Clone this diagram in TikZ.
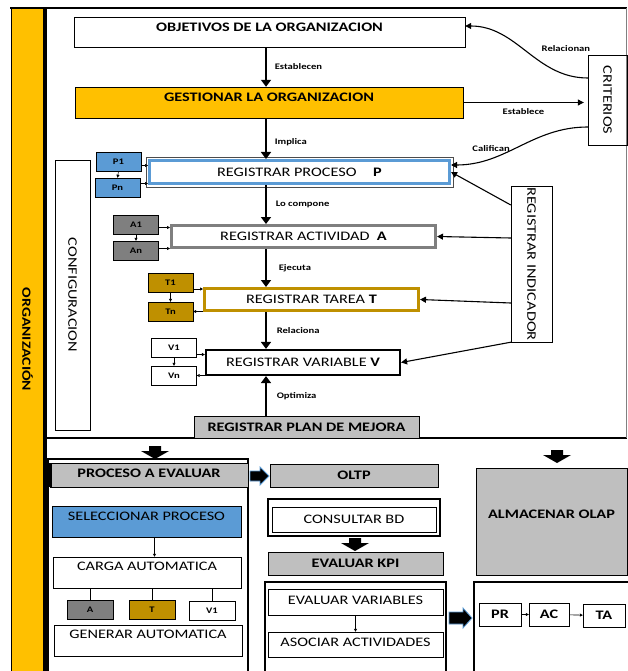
\documentclass[tikz,border=0pt]{standalone}
\usepackage{fontspec}
\setmainfont{Carlito}[FakeStretch=1.25]
\usetikzlibrary{arrows.meta}

\definecolor{orgyellow}{HTML}{FFC000}
\definecolor{procblue}{HTML}{5B9BD5}
\definecolor{actgray}{HTML}{7F7F7F}
\definecolor{targold}{HTML}{BF9000}
\definecolor{boxgray}{HTML}{BFBFBF}

\newcommand{\fatdown}[2]{\fill (#1,#2) ++(-6,0) -- ++(12,0) -- ++(0,5) -- ++(8,0) -- ++(-14,8) -- ++(-14,-8) -- ++(8,0) -- cycle;}
\newcommand{\fatright}[4]{\filldraw[draw=procblue, line width=0.8pt] (#1,#2) ++(0,-#3/2) -- ++(#4,0) -- ++(0,-4) -- ++(9,#3/2+4) -- ++(-9,#3/2+4) -- ++(0,-4) -- ++(-#4,0) -- cycle;}

\tikzset{
  box/.style={draw, inner sep=0pt, align=center, font=\bfseries\fontsize{13}{15}\selectfont},
  plainbox/.style={draw, inner sep=0pt, align=center, font=\fontsize{13}{15}\selectfont},
  mini/.style={draw, inner sep=0pt, minimum width=45, minimum height=19, font=\bfseries\fontsize{8.5}{10}\selectfont},
  lbl/.style={inner sep=0pt, font=\bfseries\fontsize{8.5}{10}\selectfont},
  flow/.style={line width=1.6pt, -{Triangle[length=7pt,width=10pt]}},
  side/.style={line width=1.1pt, -{Triangle[length=6pt,width=6pt]}},
  tinyarr/.style={line width=0.6pt, -{Triangle[length=3pt,width=3pt]}},
}

\begin{document}
\begin{tikzpicture}[x=1pt,y=-1pt]
\useasboundingbox (0,0) rectangle (627,671);

\node[draw, fill=orgyellow, line width=1pt, minimum width=32, minimum height=663, inner sep=0pt,
  font=\bfseries\fontsize{12.5}{15}\selectfont] (org) at (27.5,339.5) {\rotatebox{-90}{ORGANIZACIÓN}};
\draw[line width=1.6pt] (10,8) -- (627,8);
\draw[line width=3pt] (45,8) -- (45,671);
\draw[line width=1.6pt] (45,438) -- (627,438);
\draw[black!50] (626,8) -- (626,438);

\coordinate (spine) at (266,0);

\node[box, minimum width=391, minimum height=30, text depth=10pt] (obj) at (269.5,32) {OBJETIVOS DE LA ORGANIZACION};
\node[box, fill=orgyellow, minimum width=388, minimum height=31, text depth=11pt] (gest) at (269,102.5) {GESTIONAR LA ORGANIZACION};
\node[plainbox, minimum width=39, minimum height=90] (crit) at (607.5,100) {\rotatebox{-90}{CRITERIOS}};

\node[plainbox, draw=procblue, line width=3pt, minimum width=300, minimum height=23] (proc) at (299.5,172) {REGISTRAR PROCESO \quad\textbf{P}};
\draw[black!70, line width=0.6pt] (proc.south west) ++(-1.8,1.8) rectangle ([shift={(1.8,-1.8)}]proc.north east);
\node[plainbox, draw=actgray, line width=3pt, minimum width=264, minimum height=22] (act) at (303.5,236.5) {REGISTRAR ACTIVIDAD \ \textbf{A}};
\node[plainbox, draw=targold, line width=3pt, minimum width=214, minimum height=22] (tar) at (311.5,299.5) {REGISTRAR TAREA \textbf{T}};
\node[plainbox, line width=2.2pt, minimum width=194, minimum height=25] (var) at (303,362.5) {REGISTRAR VARIABLE \textbf{V}};
\node[box, fill=boxgray, line width=1pt, minimum width=225, minimum height=22] (plan) at (306.5,427) {REGISTRAR PLAN DE MEJORA};

\node[mini, fill=procblue] (P1) at (118.5,161.5) {P1};
\node[mini, fill=procblue] (Pn) at (117.5,187.5) {Pn};
\node[mini, fill=actgray] (A1) at (136,224.5) {A1};
\node[mini, fill=actgray] (An) at (136,250.5) {An};
\node[mini, fill=targold] (T1) at (170.5,283) {T1};
\node[mini, fill=targold] (Tn) at (170.5,311.5) {Tn};
\node[mini] (V1) at (174,347.5) {V1};
\node[mini] (Vn) at (174,375.5) {Vn};

\node[plainbox, minimum width=35, minimum height=270] (conf) at (72.5,295) {\rotatebox{-90}{CONFIGURACION}};
\node[plainbox, minimum width=41, minimum height=156] (ind) at (531.5,264) {\rotatebox{-90}{REGISTRAR INDICADOR}};

\draw[flow] (obj.south -| spine) -- node[lbl, anchor=west, xshift=8pt] {Establecen} (gest.north -| spine);
\draw[flow] (gest.south -| spine) -- node[lbl, anchor=west, xshift=8pt, pos=0.6] {Implica} (proc.north -| spine);
\draw[flow] (proc.south -| spine) -- node[lbl, anchor=west, xshift=9pt] {Lo compone} (act.north -| spine);
\draw[flow] (act.south -| spine) -- node[lbl, anchor=west, xshift=12pt] {Ejecuta} (tar.north -| spine);
\draw[flow] (tar.south -| spine) -- node[lbl, anchor=west, xshift=10pt] {Relaciona} (var.north -| spine);
\draw[flow] (plan.north -| spine) -- node[lbl, anchor=west, xshift=10pt] {Optimiza} (var.south -| spine);

\draw[side] (gest.east) -- node[lbl, below=5pt] {Establece} ([xshift=-4pt]gest.east -| crit.west);
\draw[side] ([yshift=22pt]crit.west) to[out=180, in=0] node[lbl, anchor=south west, xshift=4pt, yshift=8pt, pos=0.4] {Relacionan} ([yshift=6pt]obj.east);
\draw[side] ([yshift=-27pt]crit.west) to[out=180, in=0] node[lbl, left=3pt, pos=0.55] {Califican} ([yshift=7pt]proc.east);

\draw[side] ([yshift=59pt]ind.west) -- (proc.east);
\draw[side] ([yshift=26pt]ind.west) -- (act.east);
\draw[side] ([yshift=-39pt]ind.west) -- (tar.east);
\draw[side] (ind.south west) -- (var.east);

\draw[tinyarr] ([yshift=-4pt]P1.east) -- ([yshift=-4pt]P1.east -| proc.west);
\draw[tinyarr] ([yshift=4pt]Pn.east) -- ([yshift=4pt]Pn.east -| proc.west);
\draw[tinyarr] ([yshift=-3pt]A1.east) -- ([yshift=-3pt]A1.east -| act.west);
\draw[tinyarr] ([yshift=2pt]An.east) -- ([yshift=2pt]An.east -| act.west);
\draw[tinyarr] ([yshift=-6pt]T1.east) -- ([yshift=-6pt]T1.east -| tar.west);
\draw[tinyarr] (Tn.east -| tar.west) -- (Tn.east);
\draw[tinyarr] ([yshift=-7pt]V1.east) -- ([yshift=-7pt]V1.east -| var.west);
\draw[tinyarr] (Vn.east -| var.west) -- (Vn.east);
\draw[tinyarr] (P1.south) -- (Pn.north);
\draw[tinyarr] (A1.south) -- (An.north);
\draw[tinyarr] (T1.south) -- (Tn.north);
\draw[tinyarr] (V1.south) -- (Vn.north);

\fatdown{155}{446}
\fatdown{557}{450}

\draw[line width=1.3pt] (48,459) rectangle (248,675);
\node[box, fill=boxgray, minimum width=198, minimum height=24, text depth=4pt] (peval) at (149,475) {PROCESO A EVALUAR};
\draw[line width=3pt] (50,463) -- (50,487);
\node[plainbox, fill=procblue, minimum width=189, minimum height=31, text depth=11pt] (sel) at (146.5,521.5) {SELECCIONAR PROCESO};
\node[plainbox, minimum width=188, minimum height=31, text depth=13pt] (carga) at (147,572.5) {CARGA AUTOMATICA};
\node[mini, fill=actgray, minimum width=46] (mA) at (90,609.5) {A};
\node[mini, fill=targold, minimum width=46] (mT) at (152,609.5) {T};
\node[mini, minimum width=46] (mV) at (212,611) {V1};
\node[plainbox, minimum width=188, minimum height=31, text depth=13pt] (gen) at (148,640.5) {GENERAR AUTOMATICA};
\draw[tinyarr, line width=0.9pt] ([xshift=8pt]sel.south) -- ([xshift=8pt]sel.south |- carga.north);
\draw (mA.north) -- (mA.north |- carga.south);
\draw (mT.north) -- (mT.north |- carga.south);
\draw (mV.north) -- (mV.north |- carga.south);

\fatright{250}{476}{10}{10}

\node[box, fill=boxgray, minimum width=168, minimum height=23] (oltp) at (354,475.5) {OLTP};
\draw[line width=1.8pt] (268,499) rectangle (440,536);
\node[plainbox, line width=1pt, minimum width=164, minimum height=25] (cons) at (354,519.5) {CONSULTAR BD};
\fatdown{355}{538}
\node[box, fill=boxgray, minimum width=175, minimum height=23] (kpi) at (355.5,563.5) {EVALUAR KPI};
\draw[line width=1.8pt] (265,582) rectangle (446,675);
\node[plainbox, minimum width=175, minimum height=26, text depth=4pt] (evv) at (355.5,602) {EVALUAR VARIABLES};
\node[plainbox, minimum width=175, minimum height=25, text depth=5pt] (aso) at (355.5,644.5) {ASOCIAR ACTIVIDADES};
\draw[tinyarr, line width=0.9pt] (evv.south -| aso.north) -- (aso.north);

\fatright{449}{618}{12}{14}

\node[box, fill=boxgray, minimum width=151, minimum height=107, text depth=15pt] (alm) at (551.5,521.5) {ALMACENAR OLAP};
\draw[line width=1.8pt] (474,582) rectangle (630,675);
\node[box, minimum width=42, minimum height=23] (pr) at (500,614.5) {PR};
\node[box, minimum width=40, minimum height=23] (ac) at (549,614.5) {AC};
\node[box, minimum width=42, minimum height=23] (ta) at (604,615.5) {TA};
\draw[tinyarr] (pr) -- (ac);
\draw[tinyarr] (ac) -- (ta);
\end{tikzpicture}
\end{document}
